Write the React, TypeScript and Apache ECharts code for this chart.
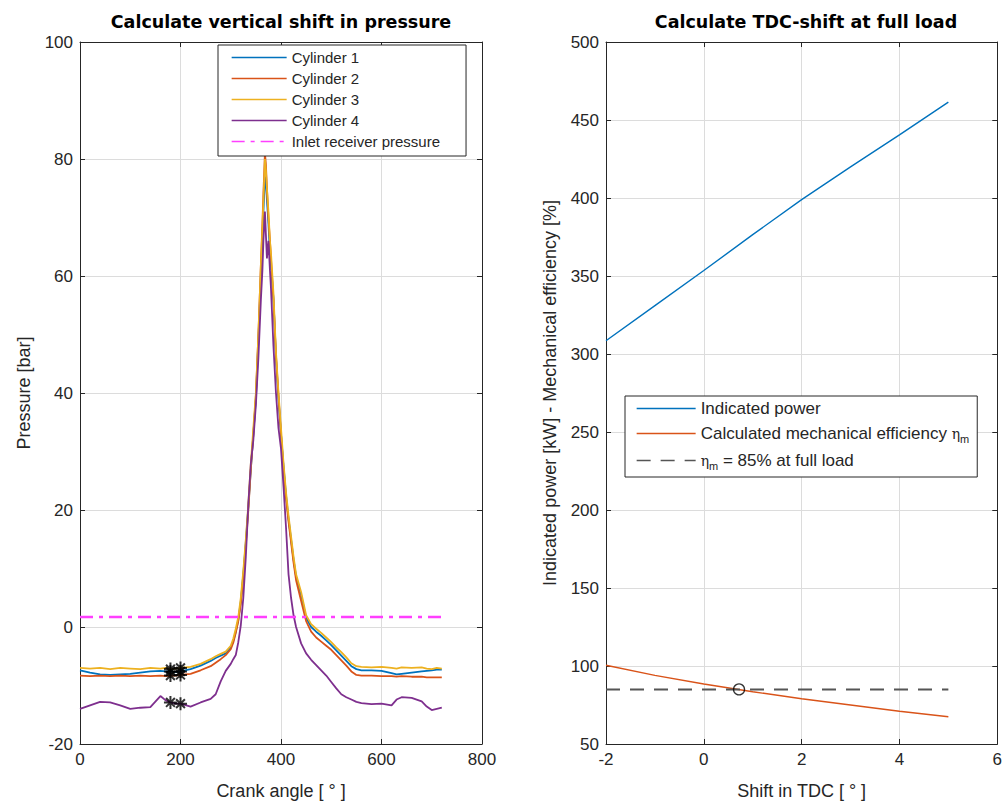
import React, { useEffect, useRef } from "react";
import * as echarts from "echarts";

// ---------- Left plot data ----------
const crankAngle = [
  0, 20, 40, 60, 80, 100, 120, 140, 160, 170, 180, 190, 200, 220, 240, 260, 270, 280, 290, 300,
  305, 310, 315, 320, 325, 330, 335, 340, 345, 350, 355, 360, 363, 365, 368, 370, 372, 375, 378, 380,
  385, 390, 395, 400, 405, 410, 415, 420, 425, 430, 440, 450, 460, 470, 480, 490, 500, 510, 520, 530,
  540, 550, 560, 580, 600, 620, 630, 640, 660, 680, 690, 700, 710, 720,
];
const cylinder1 = [
  -7.4, -7.8, -8.1, -8.2, -8.1, -8.0, -7.8, -7.6, -7.5, -7.6, -7.6, -7.7, -7.6, -7.2, -6.6, -5.8, -5.3, -4.9, -4.5, -3.5,
  -2.4, -0.8, 1.2, 4.4, 9, 14.5, 20.5, 27, 33, 39, 49, 60, 66, 71, 77, 76, 73, 69, 64, 62,
  56, 46, 39, 33, 27.5, 22.5, 18.5, 15, 11.5, 8.6, 5.5, 1.6, 0, -0.8, -1.5, -2.3, -3.1, -4.0, -4.9, -5.8,
  -6.7, -7.2, -7.4, -7.4, -7.5, -7.9, -8.1, -8.0, -7.8, -7.6, -7.5, -7.4, -7.3, -7.3,
];
const cylinder2 = [
  -8.3, -8.4, -8.3, -8.4, -8.3, -8.4, -8.3, -8.4, -8.3, -8.4, -8.3, -8.3, -8.2, -8.0, -7.4, -6.7, -6.1, -5.5, -4.8, -3.8,
  -2.7, -1.0, 1.0, 4.0, 8.5, 14, 20, 27, 33, 39.5, 50, 62, 69, 74, 81, 79, 75, 70, 66, 63,
  56, 46.5, 39.5, 33, 27, 22, 18, 14.5, 11, 8, 4.5, 1.0, -0.8, -1.8, -2.5, -3.2, -3.9, -4.8, -5.7, -6.6,
  -7.6, -8.2, -8.3, -8.3, -8.4, -8.4, -8.5, -8.4, -8.5, -8.5, -8.6, -8.6, -8.6, -8.6,
];
const cylinder3 = [
  -7.0, -7.1, -7.0, -7.2, -7.0, -7.1, -7.2, -7.0, -7.1, -7.0, -7.2, -7.1, -7.0, -6.8, -6.3, -5.5, -5.0, -4.6, -4.2, -3.2,
  -2.0, -0.3, 1.7, 5, 9.6, 15, 21, 28, 34, 40, 50, 62, 68, 73, 80, 78, 75, 71, 66, 64,
  57, 47, 40, 34, 28, 23, 19, 15.5, 12, 9, 6, 2, 0.5, -0.3, -1.0, -1.8, -2.6, -3.5, -4.3, -5.2,
  -6.2, -6.7, -6.8, -6.9, -6.8, -7.0, -7.1, -6.9, -7.0, -6.9, -7.1, -7.2, -7.0, -7.1,
];
const cylinder4 = [
  -14.0, -13.4, -12.8, -12.9, -13.4, -14.0, -13.8, -13.7, -11.8, -12.5, -12.9, -13.1, -13.1, -13.6, -12.9, -12.3, -11.5, -9.3, -7.5, -6.3,
  -5.5, -4.8, -2.6, 0.3, 5, 12, 21, 28, 32, 38, 46, 56, 61, 66, 71, 67, 63, 66, 61, 58,
  48, 40, 34, 30.5, 24, 17, 9, 5, 2, 0, -2.8, -4.5, -5.6, -6.5, -7.4, -8.3, -9.4, -10.5, -11.5, -12.0,
  -12.4, -12.8, -13.0, -13.2, -13.1, -13.4, -12.4, -12.0, -12.1, -12.7, -13.6, -14.2, -14.0, -13.8,
];
const inletAngle = [0, 720];
const inletPressure = [1.7, 1.7];
const bdcAngle = [180, 200];
const bdcCyl1 = [-7.6, -7.6];
const bdcCyl2 = [-8.3, -8.2];
const bdcCyl3 = [-7.2, -7.0];
const bdcCyl4 = [-12.9, -13.1];

// ---------- Right plot data ----------
const tdcShift = [-2, -1, 0, 1, 2, 3, 4, 5];
const indicatedPower = [308.5, 331, 353.5, 376.5, 399, 420, 440.5, 461.5];
const mechEfficiency = [100.5, 94, 88.5, 83.5, 79, 75, 71, 67.5];
const targetShift = [-2, 5];
const targetEfficiency = [85, 85];
const solutionShift = [0.72];
const solutionEfficiency = [85];

const leftNames = ["Cylinder 1", "Cylinder 2", "Cylinder 3", "Cylinder 4", "Inlet receiver pressure"];
const rightNames = ["Indicated power", "Calculated mechanical efficiency", "eta_m = 85% at full load"];

const FONT = "'Liberation Sans', Arial, Helvetica, sans-serif";
const TITLE_FONT = "'DejaVu Sans', 'Liberation Sans', sans-serif";
const TXT = "#262626";
const GRIDC = "#dcdcdc";
const ASTERISK = "path://M5,0L5,10M0,5L10,5M1.6,1.6L8.4,8.4M1.6,8.4L8.4,1.6";

const zip = (xs: number[], ys: number[]) => xs.map((x, i) => [x, ys[i]]);

function mainX(gridIndex: number, min: number, max: number, interval: number, name: string) {
  return {
    type: "value", gridIndex, min, max, interval, position: "bottom",
    name, nameLocation: "middle", nameGap: 38,
    nameTextStyle: { fontFamily: FONT, fontSize: 18, color: TXT },
    axisLine: { show: true, onZero: false, lineStyle: { color: TXT, width: 1 } },
    axisTick: { show: true, inside: true, length: 5, lineStyle: { color: TXT } },
    axisLabel: { fontFamily: FONT, fontSize: 17, color: TXT, margin: 7 },
    splitLine: { show: true, lineStyle: { color: GRIDC, width: 1 } },
  };
}
function mirrorX(gridIndex: number, min: number, max: number, interval: number) {
  return {
    type: "value", gridIndex, min, max, interval, position: "top",
    axisLine: { show: true, onZero: false, lineStyle: { color: TXT, width: 1 } },
    axisTick: { show: true, inside: true, length: 5, lineStyle: { color: TXT } },
    axisLabel: { show: false }, splitLine: { show: false },
  };
}
function mainY(gridIndex: number, min: number, max: number, interval: number, name: string, gap: number) {
  return {
    type: "value", gridIndex, min, max, interval, position: "left",
    name, nameLocation: "middle", nameGap: gap, nameRotate: 90,
    nameTextStyle: { fontFamily: FONT, fontSize: 18, color: TXT },
    axisLine: { show: true, onZero: false, lineStyle: { color: TXT, width: 1 } },
    axisTick: { show: true, inside: true, length: 5, lineStyle: { color: TXT } },
    axisLabel: { fontFamily: FONT, fontSize: 17, color: TXT, margin: 7 },
    splitLine: { show: true, lineStyle: { color: GRIDC, width: 1 } },
  };
}
function mirrorY(gridIndex: number, min: number, max: number, interval: number) {
  return {
    type: "value", gridIndex, min, max, interval, position: "right",
    axisLine: { show: true, onZero: false, lineStyle: { color: TXT, width: 1 } },
    axisTick: { show: true, inside: true, length: 5, lineStyle: { color: TXT } },
    axisLabel: { show: false }, splitLine: { show: false },
  };
}

function lineSeries(name: string, x: number[], y: number[], color: string, axis: number, width = 1.8, type: any = "solid") {
  return {
    name, type: "line", xAxisIndex: axis, yAxisIndex: axis, data: zip(x, y),
    showSymbol: false, symbol: "none", smooth: false,
    lineStyle: { color, width, type }, itemStyle: { color },
  };
}
function starSeries(x: number[], y: number[]) {
  return {
    type: "scatter", xAxisIndex: 0, yAxisIndex: 0, data: zip(x, y),
    symbol: ASTERISK, symbolSize: 13, z: 5,
    itemStyle: { color: "rgba(0,0,0,0)", borderColor: "#000", borderWidth: 2 },
  };
}

const hiddenSymbol = { color: "rgba(0,0,0,0)", borderColor: "rgba(0,0,0,0)", borderWidth: 0, opacity: 0 };

export default function App() {
  const ref = useRef<HTMLDivElement>(null);
  useEffect(() => {
    if (!ref.current) return;
    document.documentElement.style.overflow = "hidden";
    document.body.style.margin = "0";
    document.body.style.overflow = "hidden";
    const chart = echarts.init(ref.current, undefined, { renderer: "svg", width: 1005, height: 805 });
    const option: any = {
      animation: false,
      backgroundColor: "#ffffff",
      grid: [
        { left: 80, top: 42, width: 402, height: 705, containLabel: false },
        { left: 606, top: 42, width: 400, height: 705, containLabel: false },
      ],
      xAxis: [
        mainX(0, 0, 800, 200, "Crank angle [ ° ]"),
        mainX(1, -2, 6, 2, "Shift in TDC [ ° ]"),
        mirrorX(0, 0, 800, 200),
        mirrorX(1, -2, 6, 2),
      ],
      yAxis: [
        mainY(0, -20, 100, 20, "Pressure [bar]", 47),
        mainY(1, 50, 500, 50, "Indicated power [kW] - Mechanical efficiency [%]", 47),
        mirrorY(0, -20, 100, 20),
        mirrorY(1, 50, 500, 50),
      ],
      legend: [
        {
          data: leftNames, orient: "vertical", left: 218, top: 45,
          itemWidth: 55, itemHeight: 15, itemGap: 6,
          padding: [5, 26, 7, 13],
          borderColor: TXT, borderWidth: 1, backgroundColor: "#fff",
          itemStyle: hiddenSymbol,
          lineStyle: { width: 1.3 },
          textStyle: { fontFamily: FONT, fontSize: 15, lineHeight: 15, color: TXT },
          selectedMode: false,
        },
        {
          data: rightNames, orient: "vertical", left: 625, top: 396,
          itemWidth: 59, itemHeight: 16, itemGap: 8,
          padding: [4, 8, 6, 11],
          borderColor: TXT, borderWidth: 1, backgroundColor: "#fff",
          itemStyle: hiddenSymbol,
          lineStyle: { width: 1.3 },
          textStyle: {
            fontFamily: FONT, fontSize: 17, color: TXT,
            rich: {
              t: { fontFamily: FONT, fontSize: 17, color: TXT },
              eta: { fontFamily: "'DejaVu Serif', serif", fontSize: 14, color: TXT },
              sub: { fontFamily: FONT, fontSize: 11, color: TXT, padding: [10, 0, 0, 0] },
            },
          },
          formatter: (n: string) => {
            if (n === "Calculated mechanical efficiency") return "{t|Calculated mechanical efficiency }{eta|η}{sub|m}";
            if (n === "eta_m = 85% at full load") return "{eta|η}{sub|m}{t| = 85% at full load}";
            return "{t|" + n + "}";
          },
          selectedMode: false,
        },
      ],
      graphic: [
        {
          type: "text", x: 281, y: 22,
          style: { text: "Calculate vertical shift in pressure", fontFamily: TITLE_FONT, fontSize: 17.5, fontWeight: "bold", fill: "#000", textAlign: "center", textVerticalAlign: "middle" },
        },
        {
          type: "text", x: 806, y: 22,
          style: { text: "Calculate TDC-shift at full load", fontFamily: TITLE_FONT, fontSize: 17.5, fontWeight: "bold", fill: "#000", textAlign: "center", textVerticalAlign: "middle" },
        },
      ],
      series: [
        lineSeries("Cylinder 1", crankAngle, cylinder1, "#0072BD", 0),
        lineSeries("Cylinder 2", crankAngle, cylinder2, "#D95319", 0),
        lineSeries("Cylinder 3", crankAngle, cylinder3, "#EDB120", 0),
        lineSeries("Cylinder 4", crankAngle, cylinder4, "#7E2F8E", 0),
        lineSeries("Inlet receiver pressure", inletAngle, inletPressure, "#ff3fff", 0, 2.6, [13, 6, 4, 6]),
        starSeries(bdcAngle, bdcCyl1),
        starSeries(bdcAngle, bdcCyl2),
        starSeries(bdcAngle, bdcCyl3),
        starSeries(bdcAngle, bdcCyl4),
        lineSeries("Indicated power", tdcShift, indicatedPower, "#0072BD", 1, 1.4),
        lineSeries("Calculated mechanical efficiency", tdcShift, mechEfficiency, "#D95319", 1, 1.4),
        lineSeries("eta_m = 85% at full load", targetShift, targetEfficiency, "#555555", 1, 2, [14, 10]),
        {
          type: "scatter", xAxisIndex: 1, yAxisIndex: 1, data: zip(solutionShift, solutionEfficiency),
          symbol: "circle", symbolSize: 11, z: 5,
          itemStyle: { color: "rgba(0,0,0,0)", borderColor: "#000", borderWidth: 1.3 },
        },
      ],
    };
    chart.setOption(option);
    return () => chart.dispose();
  }, []);
  return <div ref={ref} style={{ position: "fixed", left: 0, top: 0, width: 1005, height: 805, overflow: "hidden" }} />;
}
